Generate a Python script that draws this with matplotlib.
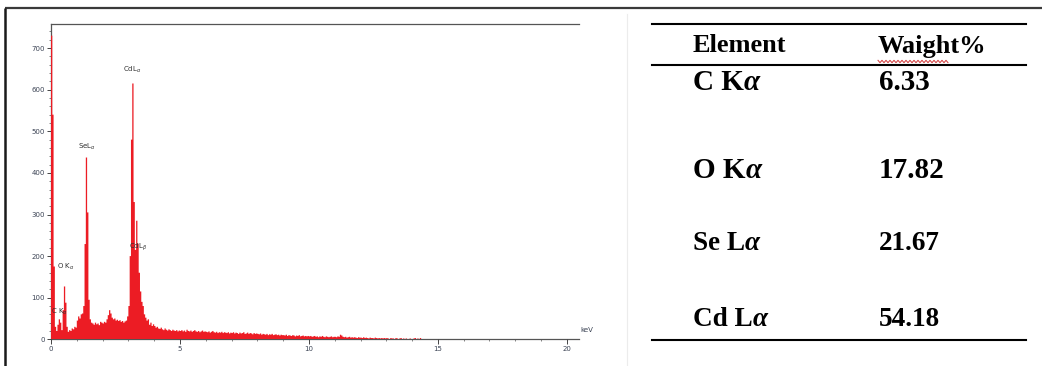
import numpy as np
import matplotlib
matplotlib.use("Agg")
import matplotlib.pyplot as plt
from matplotlib.ticker import MultipleLocator

W, H, DPI = 1042, 366, 100

# EDX spectrum: counts per 0.05 keV channel, one row per keV
channel_width = 0.05
counts_00 = [730, 540, 175, 30, 20, 35, 48, 40, 22, 70, 127, 88, 30, 18, 22, 20, 26, 24, 30, 28]
counts_01 = [45, 55, 50, 60, 62, 80, 229, 437, 305, 95, 48, 40, 38, 35, 40, 36, 38, 34, 42, 40]
counts_02 = [38, 42, 40, 48, 58, 70, 62, 52, 48, 50, 45, 47, 44, 46, 42, 44, 40, 43, 45, 55]
counts_03 = [80, 200, 480, 615, 330, 215, 285, 230, 160, 115, 90, 80, 60, 52, 45, 48, 35, 40, 32, 36]
counts_04 = [32, 28, 30, 26, 25, 28, 24, 22, 26, 23, 21, 24, 22, 20, 23, 21, 20, 22, 19, 21]
counts_05 = [20, 22, 19, 21, 18, 23, 20, 19, 21, 18, 20, 22, 19, 18, 20, 17, 19, 21, 18, 19]
counts_06 = [18, 17, 19, 16, 18, 20, 17, 16, 18, 15, 17, 16, 18, 15, 17, 16, 15, 17, 14, 16]
counts_07 = [15, 17, 14, 16, 15, 13, 16, 14, 15, 17, 13, 14, 16, 13, 15, 14, 12, 15, 13, 14]
counts_08 = [13, 12, 14, 11, 13, 12, 11, 13, 10, 12, 11, 13, 10, 11, 12, 10, 11, 9, 11, 10]
counts_09 = [10, 9, 11, 8, 10, 9, 8, 10, 9, 7, 9, 8, 10, 7, 8, 9, 7, 8, 7, 8]
counts_10 = [7, 8, 6, 7, 8, 6, 7, 5, 7, 6, 8, 6, 5, 7, 6, 5, 6, 7, 5, 6]
counts_11 = [6, 5, 7, 6, 11, 9, 6, 5, 6, 4, 5, 6, 4, 5, 4, 5, 4, 3, 5, 4]
counts_12 = [4, 3, 5, 3, 4, 3, 2, 4, 3, 3, 2, 4, 3, 2, 3, 2, 3, 2, 3, 2]
counts_13 = [3, 2, 0, 3, 2, 2, 0, 3, 2, 0, 2, 3, 0, 2, 0, 2, 0, 0, 2, 0]
counts_14 = [0, 2, 3, 0, 2, 0, 3, 0, 0, 0, 0, 0, 0, 0, 0, 0, 0, 0, 0, 0]

spectrum_rows = [counts_00, counts_01, counts_02, counts_03, counts_04, counts_05,
                 counts_06, counts_07, counts_08, counts_09, counts_10, counts_11,
                 counts_12, counts_13, counts_14]

# peak annotations (keV, counts)
peak_labels = [r"C K$_\alpha$", r"O K$_\alpha$", r"SeL$_\alpha$", r"CdL$_\alpha$", r"CdL$_\beta$"]
peak_x = [0.34, 0.56, 1.41, 3.16, 3.36]
peak_y = [66, 174, 462, 647, 222]

y_ticks = [0, 100, 200, 300, 400, 500, 600, 700]
x_ticks = [0, 5, 10, 15, 20]

# quantification table
element_symbols = ["C", "O", "Se", "Cd"]
element_lines = ["K", "K", "L", "L"]
weight_percent = ["6.33", "17.82", "21.67", "54.18"]

counts = np.concatenate([np.asarray(r, dtype=float) for r in spectrum_rows])
edges = np.arange(len(counts) + 1) * channel_width

fig = plt.figure(figsize=(W / DPI, H / DPI), dpi=DPI, facecolor="white")


def px_box(x0, y0, x1, y1):
    """Figure-fraction box from pixel corners (top-left origin)."""
    return [x0 / W, 1 - y1 / H, (x1 - x0) / W, (y1 - y0) / H]


# overlay in pixel coordinates for frame and table
ov = fig.add_axes([0, 0, 1, 1], zorder=0)
ov.set_xlim(0, W)
ov.set_ylim(H, 0)
ov.axis("off")
ov.plot([5, W], [8, 8], color="#3a3a3a", lw=1.6, solid_capstyle="butt")
ov.plot([5, 5], [8, H], color="#1a1a1a", lw=1.8, solid_capstyle="butt")
ov.plot([627, 627], [14, H], color="#ececec", lw=0.8)

# spectrum panel
ax = fig.add_axes(px_box(51, 24, 579, 339.3), zorder=2)
ax.set_facecolor("none")
ax.stairs(counts, edges, fill=True, color="#ec1c24", linewidth=0, zorder=3,
          snap=False)
ax.set_xlim(0, 20.47)
ax.set_ylim(0, 758)
ax.spines["right"].set_visible(False)
for s in ["left", "bottom", "top"]:
    ax.spines[s].set_color("#555555")
    ax.spines[s].set_linewidth(0.9)
    ax.spines[s].set_zorder(1)

ax.set_yticks(y_ticks)
ax.set_yticklabels([str(v) for v in y_ticks])
ax.yaxis.set_minor_locator(MultipleLocator(20))
ax.set_xticks(x_ticks)
ax.set_xticklabels([str(v) for v in x_ticks])
ax.xaxis.set_minor_locator(MultipleLocator(1))
ax.tick_params(axis="both", which="major", labelsize=5, labelcolor="#3c4455",
               color="#444444", length=3, width=0.7, pad=1.5, direction="out")
ax.tick_params(axis="both", which="minor", color="#555555", length=1.5, width=0.5,
               direction="out")
ax.tick_params(axis="x", which="major", length=3.5)
ax.text(1.003, 0.02, "keV", transform=ax.transAxes, fontsize=5, color="#3c4455",
        ha="left", va="bottom")

for lab, xv, yv in zip(peak_labels, peak_x, peak_y):
    ax.text(xv, yv, lab, fontsize=5, color="#303030", ha="center", va="center",
            zorder=6)

# table
serif = "Liberation Serif"
ov.plot([652, 1026], [24, 24], color="black", lw=1.5)
ov.plot([652, 1026], [65, 65], color="black", lw=1.5)
ov.plot([652, 1026], [340, 340], color="black", lw=1.5)
ov.text(693, 46, "Element", family=serif, weight="bold", fontsize=19,
        ha="left", va="center")
ov.text(878, 46, "Waight%", family=serif, weight="bold", fontsize=19,
        ha="left", va="center")
zz_x = np.linspace(878, 948, 36)
zz_y = 61.5 + np.where(np.arange(36) % 2 == 0, -1.2, 1.2)
ov.plot(zz_x, zz_y, color="#d23a3a", lw=0.7)

row_y = [82, 170, 243, 319]
row_size = [21, 21, 19.5, 19.5]
for sym, line, wp, yy, fs in zip(element_symbols, element_lines, weight_percent, row_y, row_size):
    t = ov.text(693, yy, f"{sym} {line}", family=serif, weight="bold", fontsize=fs,
                ha="left", va="center")
    ov.annotate("α", xy=(1, 0), xycoords=t, family=serif, style="italic",
                weight="bold", fontsize=fs, ha="left", va="bottom")
    ov.text(879, yy, wp, family=serif, weight="bold", fontsize=fs,
            ha="left", va="center")

fig.savefig("out.png", dpi=DPI, facecolor="white")
